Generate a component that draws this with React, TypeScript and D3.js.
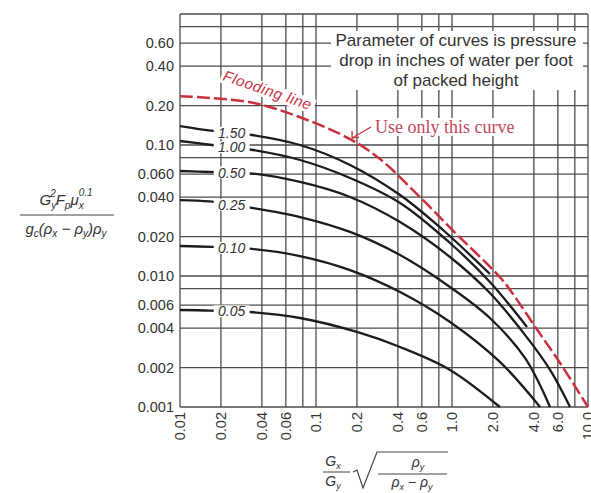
import React from "react";
import * as d3 from "d3";

// axis ticks / grid
const xTicks = [0.01, 0.02, 0.04, 0.06, 0.1, 0.2, 0.4, 0.6, 1, 2, 4, 6, 10];
const xTickLabels = ["0.01", "0.02", "0.04", "0.06", "0.1", "0.2", "0.4", "0.6", "1.0", "2.0", "4.0", "6.0", "10.0"];
const xGrid = [0.01, 0.02, 0.04, 0.06, 0.08, 0.1, 0.2, 0.4, 0.6, 0.8, 1, 2, 4, 6, 8, 10];
const yTicks = [0.6, 0.4, 0.2, 0.1, 0.06, 0.04, 0.02, 0.01, 0.006, 0.004, 0.002, 0.001];
const yTickLabels = ["0.60", "0.40", "0.20", "0.10", "0.060", "0.040", "0.020", "0.010", "0.006", "0.004", "0.002", "0.001"];
const yGrid = [1, 0.8, 0.6, 0.4, 0.2, 0.1, 0.08, 0.06, 0.04, 0.02, 0.01, 0.008, 0.006, 0.004, 0.002, 0.001];

// flooding line
const floodX = [0.01, 0.0327, 0.0763, 0.178, 0.296, 0.582, 0.967, 2.33, 3.0, 4.22, 6.0, 10];
const floodY = [0.236, 0.212, 0.163, 0.111, 0.078, 0.04, 0.0234, 0.0094, 0.0066, 0.0039, 0.0023, 0.001];

// pressure drop curves (in. water / ft)
const dp150X = [0.01, 0.0175, 0.0338, 0.0763, 0.178, 0.415, 0.859, 1.9];
const dp150Y = [0.1396, 0.128, 0.1192, 0.1, 0.0704, 0.0415, 0.02245, 0.01035];
const dp100X = [0.01, 0.0172, 0.0345, 0.0763, 0.178, 0.415, 0.967, 1.9, 3.56];
const dp100Y = [0.1073, 0.1, 0.0916, 0.0768, 0.056, 0.0361, 0.01786, 0.009, 0.00408];
const dp050X = [0.01, 0.0166, 0.0316, 0.0763, 0.178, 0.415, 0.967, 1.9, 3.44, 5.26, 7.38];
const dp050Y = [0.0633, 0.0622, 0.0611, 0.0522, 0.0401, 0.0258, 0.01396, 0.00741, 0.00355, 0.00192, 0.001];
const dp025X = [0.01, 0.0166, 0.0311, 0.0763, 0.178, 0.415, 0.967, 1.9, 3.44, 5.26];
const dp025Y = [0.038, 0.0371, 0.0336, 0.0282, 0.0217, 0.01446, 0.00824, 0.00478, 0.00237, 0.001];
const dp010X = [0.01, 0.0172, 0.0338, 0.0763, 0.178, 0.415, 0.967, 2.25, 4.44];
const dp010Y = [0.01694, 0.0167, 0.0161, 0.0142, 0.0111, 0.00755, 0.00446, 0.00221, 0.001];
const dp005X = [0.01, 0.0166, 0.0327, 0.0763, 0.2, 0.415, 0.967, 2.25];
const dp005Y = [0.0055, 0.00545, 0.00531, 0.00478, 0.00374, 0.00287, 0.00192, 0.001];

const curveNames = ["1.50", "1.00", "0.50", "0.25", "0.10", "0.05"];
const curveXs = [dp150X, dp100X, dp050X, dp025X, dp010X, dp005X];
const curveYs = [dp150Y, dp100Y, dp050Y, dp025Y, dp010Y, dp005Y];

const noteLines = ["Parameter of curves is pressure", "drop in inches of water per foot", "of packed height"];

const W = 591, H = 493;
const sans = "'Liberation Sans', Arial, sans-serif";
const serif = "'Liberation Serif', 'Times New Roman', serif";
const red = "#c9303f";
const ink = "#1c1c1c";
const gridColor = "#4d4d4d";

// log-log interpolation on a curve
function yAt(xs: number[], ys: number[], xv: number) {
    for (let i = 0; i < xs.length - 1; i++) {
        if (xv >= xs[i] && xv <= xs[i + 1]) {
            const t = (Math.log10(xv) - Math.log10(xs[i])) / (Math.log10(xs[i + 1]) - Math.log10(xs[i]));
            return Math.pow(10, Math.log10(ys[i]) + t * (Math.log10(ys[i + 1]) - Math.log10(ys[i])));
        }
    }
    return ys[0];
}

export default function App() {
    const x = d3.scaleLog().domain([0.01, 10]).range([180, 588]);
    const y = d3.scaleLog().domain([0.001, 1]).range([407, 14]);

    const line = d3.line<[number, number]>()
        .x(d => x(d[0]))
        .y(d => y(d[1]))
        .curve(d3.curveCatmullRom.alpha(0.5));

    const floodPts = floodX.map((v, i) => [v, floodY[i]] as [number, number]);
    const labelX = 0.024;

    // arrow from note to flooding line
    const tipX = x(floodX[3]), tipY = y(floodY[3]);

    return (
        <svg width={W} height={H} style={{ position: "absolute", left: 0, top: 0, background: "#fff" }}>
            {/* grid */}
            <g stroke={gridColor} strokeWidth={1.3}>
                {xGrid.map(v => (
                    <line key={"xg" + v} x1={x(v)} x2={x(v)} y1={y(1)} y2={y(0.001)} />
                ))}
                {yGrid.map(v => (
                    <line key={"yg" + v} x1={x(0.01)} x2={x(10)} y1={y(v)} y2={y(v)} />
                ))}
            </g>

            {/* note box */}
            <rect x={331} y={31} width={252} height={59} fill="#fff" />
            <g fontFamily={sans} fontSize={17} fill="#333" textAnchor="middle">
                {noteLines.map((t, i) => (
                    <text key={t} x={456} y={40 + i * 20} dominantBaseline="central">{t}</text>
                ))}
            </g>

            {/* tick labels */}
            <g fontFamily={sans} fontSize={14.5} fill="#333">
                {yTicks.map((v, i) => (
                    <text key={"yl" + v} x={174} y={y(v)} textAnchor="end" dominantBaseline="central">{yTickLabels[i]}</text>
                ))}
                {xTicks.map((v, i) => (
                    <text key={"xl" + v} transform={`translate(${x(v)},412) rotate(-90)`} textAnchor="end" dominantBaseline="central">{xTickLabels[i]}</text>
                ))}
            </g>

            {/* pressure drop curves */}
            <g fill="none" stroke={ink} strokeWidth={2.3}>
                {curveXs.map((xs, i) => (
                    <path key={curveNames[i]} d={line(xs.map((v, j) => [v, curveYs[i][j]] as [number, number])) || ""} />
                ))}
            </g>
            {curveXs.map((xs, i) => {
                const cy = y(yAt(xs, curveYs[i], labelX));
                return (
                    <g key={"lab" + curveNames[i]}>
                        <rect x={x(labelX) - 18} y={cy - 6} width={36} height={12} fill="#fff" />
                        <text x={x(labelX)} y={cy} textAnchor="middle" dominantBaseline="central"
                            fontFamily={sans} fontStyle="italic" fontSize={14} fill="#333">{curveNames[i]}</text>
                    </g>
                );
            })}

            {/* flooding line */}
            <g transform="translate(222,80) rotate(19)">
                <rect x={-2} y={-12} width={98} height={15} fill="#fff" />
                <text x={0} y={0} fontFamily={sans} fontStyle="italic" fontSize={15} letterSpacing={0.6} fill={red}>Flooding line</text>
            </g>
            <path d={line(floodPts) || ""} fill="none" stroke={red} strokeWidth={2.5} strokeDasharray="13 4" />

            {/* use only note */}
            <rect x={373} y={118} width={150} height={18} fill="#fff" />
            <text x={375} y={127} dominantBaseline="central" fontFamily={serif} fontSize={18} fill="#c4465e">Use only this curve</text>
            <g stroke={red} strokeWidth={1.3} fill="none">
                <line x1={371} y1={127} x2={tipX + 2} y2={tipY - 1} />
                <path d={`M${tipX + 2},${tipY - 8} L${tipX + 2},${tipY - 1} L${tipX + 9},${tipY - 2}`} />
            </g>

            {/* y axis title */}
            <g fontFamily={sans} fontStyle="italic" fill="#333" fontSize={15}>
                <text x={66} y={205} textAnchor="middle">
                    G<tspan fontSize={10} dy={4}>y</tspan><tspan fontSize={10} dx={-6} dy={-12}>2</tspan>
                    <tspan dy={8}>F</tspan><tspan fontSize={10} dy={4}>p</tspan>
                    <tspan dy={-4}>μ</tspan><tspan fontSize={10} dy={4}>x</tspan><tspan fontSize={10} dx={-5} dy={-13}>0.1</tspan>
                </text>
                <line x1={20} x2={114} y1={215} y2={215} stroke="#444" strokeWidth={1} />
                <text x={66} y={234} textAnchor="middle">
                    g<tspan fontSize={10} dy={3}>c</tspan><tspan dy={-3}>(ρ</tspan><tspan fontSize={10} dy={3}>x</tspan>
                    <tspan dy={-3}> − ρ</tspan><tspan fontSize={10} dy={3}>y</tspan><tspan dy={-3}>)ρ</tspan>
                    <tspan fontSize={10} dy={3}>y</tspan>
                </text>
            </g>

            {/* x axis title */}
            <g fontFamily={sans} fontStyle="italic" fill="#333" fontSize={14}>
                <text x={333} y={466} textAnchor="middle">G<tspan fontSize={9} dy={3}>x</tspan></text>
                <line x1={323} x2={350} y1={472} y2={472} stroke="#444" strokeWidth={1} />
                <text x={333} y={486} textAnchor="middle">G<tspan fontSize={9} dy={3}>y</tspan></text>
                <path d="M353,472 L357,470 L363,488 L377,452 L448,452" fill="none" stroke="#444" strokeWidth={1.2} />
                <text x={418} y={467} textAnchor="middle">ρ<tspan fontSize={9} dy={3}>y</tspan></text>
                <line x1={378} x2={447} y1={474} y2={474} stroke="#444" strokeWidth={1} />
                <text x={412} y={487} textAnchor="middle">ρ<tspan fontSize={9} dy={3}>x</tspan><tspan dy={-3}> − ρ</tspan><tspan fontSize={9} dy={3}>y</tspan></text>
            </g>
        </svg>
    );
}
